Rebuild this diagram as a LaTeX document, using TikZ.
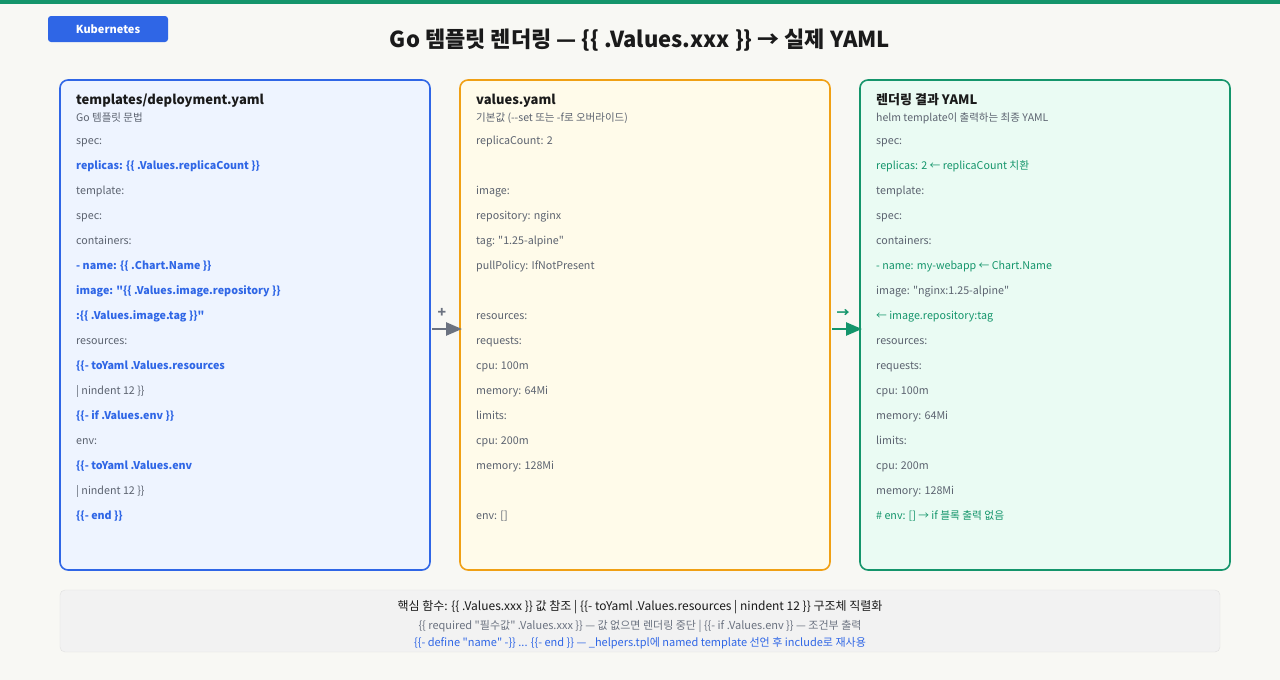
\documentclass[tikz,border=0pt]{standalone}
\usepackage{fontspec}
\setmainfont{Noto Sans CJK KR}[Ligatures=TeXOff]
\usetikzlibrary{arrows.meta}
\definecolor{bg}{HTML}{F8F8F4}
\definecolor{kblue}{HTML}{2F66E6}
\definecolor{korange}{HTML}{F0A014}
\definecolor{kgreen}{HTML}{14956B}
\definecolor{ktxt}{HTML}{5C6370}
\definecolor{kdark}{HTML}{1A1A1A}
\definecolor{kgray}{HTML}{6B7280}
\definecolor{fA}{HTML}{EEF4FF}
\definecolor{fB}{HTML}{FFFBEA}
\definecolor{fC}{HTML}{EAFBF3}
\tikzset{
  ln/.style={anchor=base west, inner sep=0pt, text=ktxt, font=\fontsize{10.7}{13}\selectfont, yshift=-4pt},
  lb/.style={ln, text=kblue, font=\fontsize{10.7}{13}\selectfont\bfseries},
  lg/.style={ln, text=kgreen},
  panel/.style={draw, line width=1.6pt, rounded corners=8pt},
  ttl/.style={anchor=base west, inner sep=0pt, text=kdark, font=\fontsize{13}{15}\selectfont\bfseries, yshift=-5pt},
  sub/.style={anchor=base west, inner sep=0pt, text=ktxt, font=\fontsize{10.5}{12}\selectfont, yshift=-4pt},
  conn/.style={line width=2.5pt, -{Triangle[length=16pt,width=13pt]}}
}
\begin{document}
\begin{tikzpicture}[x=1pt,y=-1pt]
\fill[bg] (0,0) rectangle (1280,680);
\useasboundingbox (0,0) rectangle (1280,680);
\fill[kgreen] (0,0) rectangle (1280,4);
\node[fill=kblue, rounded corners=3pt, minimum width=120pt, minimum height=26pt, text=white, font=\fontsize{11}{13}\selectfont\bfseries] (badge) at (108,29) {Kubernetes};
\node[text=kdark, font=\fontsize{22}{24}\selectfont\bfseries] (title) at (640,40) {Go 템플릿 렌더링 — \{\{ .Values.xxx \}\} → 실제 YAML};
% panels
\draw[panel, kblue, fill=fA] (60,80) rectangle (430,570);
\draw[panel, korange, fill=fB] (460,80) rectangle (830,570);
\draw[panel, kgreen, fill=fC] (860,80) rectangle (1230,570);
\coordinate (a1) at (432,329); \coordinate (a2) at (462,329);
\coordinate (b1) at (832,329); \coordinate (b2) at (862,329);
\draw[conn, kgray] (a1) -- (a2);
\draw[conn, kgreen] (b1) -- (b2);
\node[text=kgray, font=\fontsize{14}{14}\selectfont\bfseries] (plus) at (442,313) {+};
\node[text=kgreen, font=\fontsize{13}{14}\selectfont\bfseries] (to) at (843,313) {→};
% left
\node[ttl] (t1) at (76,99) {templates/deployment.yaml};
\node[sub] (s1) at (76,117) {Go 템플릿 문법};
\node[ln] at (76,140) {spec:};
\node[lb] at (76,165) {replicas: \{\{ .Values.replicaCount \}\}};
\node[ln] at (76,190) {template:};
\node[ln] at (76,215) {spec:};
\node[ln] at (76,240) {containers:};
\node[lb] at (76,265) {- name: \{\{ .Chart.Name \}\}};
\node[lb] at (76,290) {image: "\{\{ .Values.image.repository \}\}};
\node[lb] at (76,315) {:\{\{ .Values.image.tag \}\}"};
\node[ln] at (76,340) {resources:};
\node[lb] at (76,365) {\{\{- toYaml .Values.resources};
\node[ln] at (76,390) {| nindent 12 \}\}};
\node[lb] at (76,415) {\{\{- if .Values.env \}\}};
\node[ln] at (76,440) {env:};
\node[lb] at (76,465) {\{\{- toYaml .Values.env};
\node[ln] at (76,490) {| nindent 12 \}\}};
\node[lb] at (76,515) {\{\{- end \}\}};
% middle
\node[ttl] (t2) at (476,99) {values.yaml};
\node[sub] (s2) at (476,117) {기본값 (--set 또는 -f로 오버라이드)};
\node[ln] at (476,140) {replicaCount: 2};
\node[ln] at (476,190) {image:};
\node[ln] at (476,215) {repository: nginx};
\node[ln] at (476,240) {tag: "1.25-alpine"};
\node[ln] at (476,265) {pullPolicy: IfNotPresent};
\node[ln] at (476,315) {resources:};
\node[ln] at (476,340) {requests:};
\node[ln] at (476,365) {cpu: 100m};
\node[ln] at (476,390) {memory: 64Mi};
\node[ln] at (476,415) {limits:};
\node[ln] at (476,440) {cpu: 200m};
\node[ln] at (476,465) {memory: 128Mi};
\node[ln] at (476,515) {env: []};
% right
\node[ttl] (t3) at (876,99) {렌더링 결과 YAML};
\node[sub] (s3) at (876,117) {helm template이 출력하는 최종 YAML};
\node[ln] at (876,140) {spec:};
\node[lg] at (876,165) {replicas: 2 ← replicaCount 치환};
\node[ln] at (876,190) {template:};
\node[ln] at (876,215) {spec:};
\node[ln] at (876,240) {containers:};
\node[lg] at (876,265) {- name: my-webapp ← Chart.Name};
\node[ln] at (876,290) {image: "nginx:1.25-alpine"};
\node[lg] at (876,315) {← image.repository:tag};
\node[ln] at (876,340) {resources:};
\node[ln] at (876,365) {requests:};
\node[ln] at (876,390) {cpu: 100m};
\node[ln] at (876,415) {memory: 64Mi};
\node[ln] at (876,440) {limits:};
\node[ln] at (876,465) {cpu: 200m};
\node[ln] at (876,490) {memory: 128Mi};
\node[lg] at (876,515) {\# env: [] → if 블록 출력 없음};
% bottom
\draw[fill=black!5, draw=black!12, rounded corners=5pt] (60,590) rectangle (1220,652);
\node[text=kdark, font=\fontsize{12}{14}\selectfont] (b1t) at (640,607) {핵심 함수: \{\{ .Values.xxx \}\} 값 참조 | \{\{- toYaml .Values.resources | nindent 12 \}\} 구조체 직렬화};
\node[text=kgray, font=\fontsize{11}{12}\selectfont] (b2t) at (640,626) {\{\{ required "필수값" .Values.xxx \}\} — 값 없으면 렌더링 중단 | \{\{- if .Values.env \}\} — 조건부 출력};
\node[text=kblue, font=\fontsize{11}{12}\selectfont] (b3t) at (640,643) {\{\{- define "name" -\}\} ... \{\{- end \}\} — \_helpers.tpl에 named template 선언 후 include로 재사용};
\end{tikzpicture}
\end{document}
